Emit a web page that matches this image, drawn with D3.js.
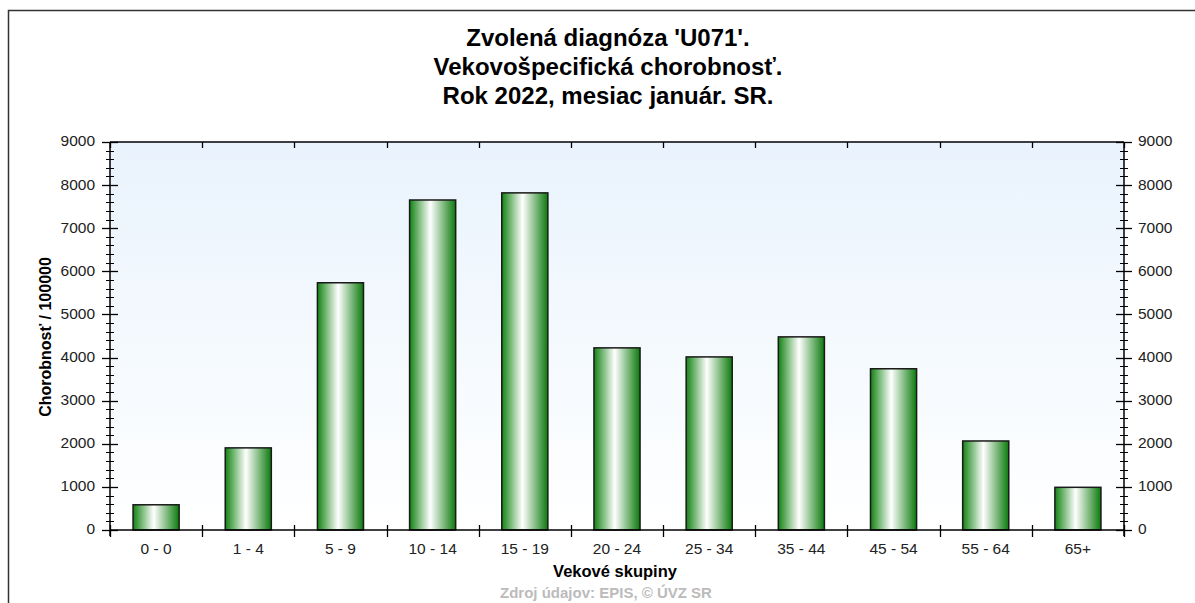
<!DOCTYPE html>
<html>
<head>
<meta charset="utf-8">
<script src="https://cdn.jsdelivr.net/npm/d3@7"></script>
<style>
  body { margin: 0; background: #fff; overflow: hidden; }
  svg text { font-family: "Liberation Sans", Arial, sans-serif; }
</style>
</head>
<body>
<div id="chart"></div>
<script>
// Age groups and age-specific morbidity per 100000
const categories = ['0 - 0', '1 - 4', '5 - 9', '10 - 14', '15 - 19', '20 - 24',
  '25 - 34', '35 - 44', '45 - 54', '55 - 64', '65+'];
const values = [585, 1905, 5735, 7655, 7820, 4225, 4015, 4480, 3740, 2065, 990];
const yTicks = [0, 1000, 2000, 3000, 4000, 5000, 6000, 7000, 8000, 9000];
const titleLines = ["Zvolená diagnóza 'U071'.", 'Vekovošpecifická chorobnosť.',
  'Rok 2022, mesiac január. SR.'];

const W = 1195;
const H = 603;
const margin = { left: 110, right: 71, top: 142, bottom: 73 };
const innerW = W - margin.left - margin.right;
const innerH = H - margin.top - margin.bottom;

const svg = d3.select('#chart').append('svg')
    .attr('width', W)
    .attr('height', H)
    .style('display', 'block');

const defs = svg.append('defs');
const bg = defs.append('linearGradient')
    .attr('id', 'bg')
    .attr('x1', 0).attr('y1', 0).attr('x2', 0).attr('y2', 1);
bg.append('stop').attr('offset', '0%').attr('stop-color', '#e9f3fd');
bg.append('stop').attr('offset', '100%').attr('stop-color', '#ffffff');

const barGrad = defs.append('linearGradient')
    .attr('id', 'bar')
    .attr('x1', 0).attr('y1', 0).attr('x2', 1).attr('y2', 0);
barGrad.append('stop').attr('offset', '0%').attr('stop-color', '#128312');
barGrad.append('stop').attr('offset', '45%').attr('stop-color', '#ffffff');
barGrad.append('stop').attr('offset', '100%').attr('stop-color', '#0b7a0b');

// outer frame
svg.append('rect')
    .attr('x', 8.5).attr('y', 10.5)
    .attr('width', W).attr('height', H)
    .attr('fill', 'none')
    .attr('stroke', '#333')
    .attr('stroke-width', 1.5);

// title
svg.append('g')
  .selectAll('text')
    .data(titleLines)
  .enter().append('text')
    .attr('x', 608)
    .attr('y', (d, i) => 46 + i * 29)
    .attr('text-anchor', 'middle')
    .style('font-size', '24px')
    .style('font-weight', 'bold')
    .attr('fill', '#000')
    .text(d => d);

const x = d3.scaleBand()
    .domain(categories)
    .range([0, innerW])
    .paddingInner(0)
    .paddingOuter(0);

const y = d3.scaleLinear()
    .domain([0, 9000])
    .range([innerH, 0]);

const g = svg.append('g')
    .attr('transform', `translate(${margin.left}, ${margin.top})`);

g.append('rect')
    .attr('width', innerW)
    .attr('height', innerH)
    .attr('fill', 'url(#bg)');

// bars
const barW = x.bandwidth() * 0.5;
g.append('g')
  .selectAll('rect')
    .data(values)
  .enter().append('rect')
    .attr('x', (d, i) => x(categories[i]) + (x.bandwidth() - barW) / 2)
    .attr('y', d => y(d))
    .attr('width', barW)
    .attr('height', d => innerH - y(d))
    .attr('fill', 'url(#bar)')
    .attr('stroke', '#1a1a1a')
    .attr('stroke-width', 1.5);

const minor = d3.range(0, 9001, 200).filter(v => v % 1000 !== 0);
const boundaries = categories.map(c => x(c)).concat([innerW]);

// y axes (left and right) with crossing ticks
function yAxis(xPos, side) {
  const a = g.append('g').attr('transform', `translate(${xPos},0)`);
  a.append('line')
      .attr('y1', 0).attr('y2', innerH + 6)
      .attr('stroke', '#000').attr('stroke-width', 1.5);
  a.selectAll('.minor')
      .data(minor)
    .enter().append('line')
      .attr('x1', -4).attr('x2', 4)
      .attr('y1', d => Math.round(y(d)) + 0.5).attr('y2', d => Math.round(y(d)) + 0.5)
      .attr('stroke', '#000');
  a.selectAll('.major')
      .data(yTicks)
    .enter().append('line')
      .attr('x1', -8).attr('x2', 8)
      .attr('y1', d => Math.round(y(d)) + 0.5).attr('y2', d => Math.round(y(d)) + 0.5)
      .attr('stroke', '#000').attr('stroke-width', 1.3);
  a.selectAll('text')
      .data(yTicks)
    .enter().append('text')
      .attr('x', side < 0 ? -15 : 14)
      .attr('y', d => y(d) - 1)
      .attr('dy', '0.35em')
      .attr('text-anchor', side < 0 ? 'end' : 'start')
      .style('font-size', '15.5px')
      .attr('fill', '#222')
      .text(d => d);
}
yAxis(0, -1);
yAxis(innerW, 1);

// bottom axis
const bottomAxis = g.append('g').attr('transform', `translate(0,${innerH})`);
bottomAxis.append('line')
    .attr('x1', 0).attr('x2', innerW)
    .attr('stroke', '#000').attr('stroke-width', 1.5);
bottomAxis.selectAll('.tick')
    .data(boundaries)
  .enter().append('line')
    .attr('x1', d => Math.round(d) + 0.5).attr('x2', d => Math.round(d) + 0.5)
    .attr('y1', -5).attr('y2', 7)
    .attr('stroke', '#000').attr('stroke-width', 1.3);
bottomAxis.selectAll('text')
    .data(categories)
  .enter().append('text')
    .attr('x', d => x(d) + x.bandwidth() / 2)
    .attr('y', 24)
    .attr('text-anchor', 'middle')
    .style('font-size', '15.5px')
    .attr('fill', '#222')
    .text(d => d);

// top axis
const topAxis = g.append('g');
topAxis.append('line')
    .attr('x1', 0).attr('x2', innerW)
    .attr('stroke', '#000').attr('stroke-width', 1.5);
topAxis.selectAll('.tick')
    .data(boundaries)
  .enter().append('line')
    .attr('x1', d => Math.round(d) + 0.5).attr('x2', d => Math.round(d) + 0.5)
    .attr('y1', 0).attr('y2', 6)
    .attr('stroke', '#000').attr('stroke-width', 1.3);

// axis titles
svg.append('text')
    .attr('transform', 'translate(51, 337) rotate(-90)')
    .attr('text-anchor', 'middle')
    .style('font-size', '16px')
    .style('font-weight', 'bold')
    .attr('fill', '#000')
    .text('Chorobnosť / 100000');

svg.append('text')
    .attr('x', 615)
    .attr('y', 577)
    .attr('text-anchor', 'middle')
    .style('font-size', '16.5px')
    .style('font-weight', 'bold')
    .attr('fill', '#000')
    .text('Vekové skupiny');

svg.append('text')
    .attr('x', 606)
    .attr('y', 598)
    .attr('text-anchor', 'middle')
    .style('font-size', '15px')
    .style('font-weight', 'bold')
    .attr('fill', '#bbb')
    .text('Zdroj údajov: EPIS, © ÚVZ SR');
</script>
</body>
</html>
